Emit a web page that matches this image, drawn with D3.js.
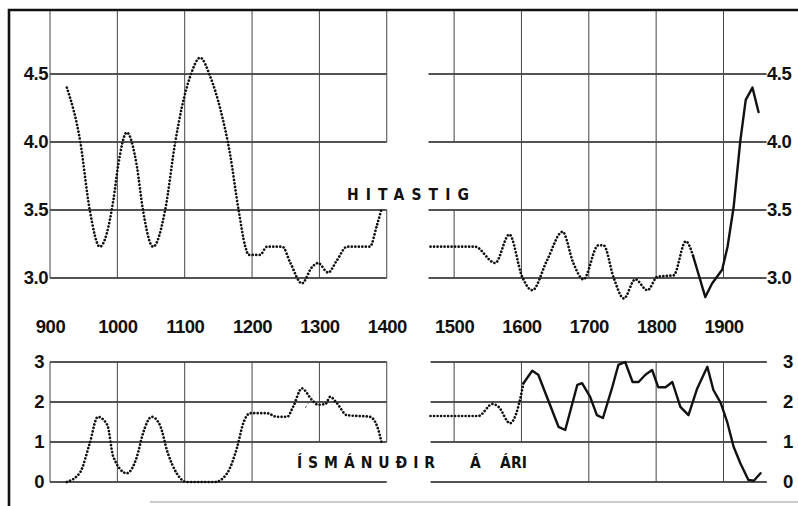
<!DOCTYPE html>
<html>
<head>
<meta charset="utf-8">
<script src="https://cdn.jsdelivr.net/npm/d3@7"></script>
<style>
  html, body { margin: 0; padding: 0; background: #fff; }
  svg { display: block; }
  .tick text { font-family: "Liberation Sans", Arial, sans-serif; font-weight: bold; font-size: 18.5px; fill: #111; letter-spacing: -0.5px; }
  .ttl { font-family: "DejaVu Sans Condensed", "Liberation Sans Narrow", "Liberation Sans", sans-serif; font-weight: bold; font-size: 15.5px; fill: #111; }
</style>
</head>
<body>
<svg id="chart" width="798" height="506"></svg>
<script>
// ---------------- DATA ----------------
const xTicks = [900, 1000, 1100, 1200, 1300, 1400, 1500, 1600, 1700, 1800, 1900];
const tempTicks = [3.0, 3.5, 4.0, 4.5];
const iceTicks = [0, 1, 2, 3];

// Hitastig (temperature), dotted, 900-1400
const tempLeftYears  = [925, 945, 959, 974, 994, 1001, 1014, 1029, 1038, 1053, 1071, 1086, 1096, 1108, 1123, 1138, 1153, 1167, 1180, 1190, 1195, 1212, 1222, 1245, 1257, 1274, 1289, 1298, 1313, 1326, 1341, 1375, 1385, 1393];
const tempLeftValues = [4.40, 4.00, 3.50, 3.23, 3.57, 3.82, 4.07, 3.82, 3.50, 3.23, 3.50, 4.00, 4.26, 4.48, 4.62, 4.48, 4.24, 3.92, 3.50, 3.23, 3.17, 3.17, 3.23, 3.23, 3.11, 2.96, 3.08, 3.11, 3.04, 3.13, 3.23, 3.23, 3.38, 3.52];

// Hitastig, dotted, 1465-1855
const tempRightDotYears  = [1465, 1531, 1561, 1582, 1601, 1616, 1638, 1661, 1677, 1692, 1714, 1722, 1737, 1752, 1769, 1787, 1802, 1826, 1844, 1855];
const tempRightDotValues = [3.23, 3.23, 3.11, 3.32, 3.01, 2.91, 3.13, 3.34, 3.11, 2.99, 3.24, 3.24, 3.00, 2.85, 2.99, 2.91, 3.01, 3.02, 3.27, 3.16];

// Hitastig, solid (measured), 1855-1952
const tempSolidYears  = [1855, 1873, 1883, 1898, 1906, 1915, 1925, 1933, 1943, 1952];
const tempSolidValues = [3.16, 2.86, 2.96, 3.06, 3.23, 3.52, 4.01, 4.31, 4.40, 4.22];

// Ísmánuðir á ári (sea-ice months per year), dotted, 900-1400
const iceLeftYears  = [925, 945, 959, 971, 985, 994, 1014, 1029, 1038, 1051, 1063, 1075, 1088, 1103, 1145, 1163, 1178, 1187, 1197, 1222, 1237, 1252, 1261, 1274, 1289, 1298, 1309, 1316, 1326, 1341, 1375, 1386, 1393];
const iceLeftValues = [0.00, 0.25, 0.97, 1.63, 1.43, 0.63, 0.22, 0.63, 1.21, 1.63, 1.43, 0.72, 0.22, 0.00, 0.00, 0.22, 0.88, 1.47, 1.72, 1.72, 1.63, 1.63, 1.88, 2.34, 2.05, 1.93, 1.95, 2.13, 1.97, 1.67, 1.63, 1.38, 0.93];

// small dashed alternative stroke near 1280-1290
const iceAltYears  = [1279, 1291];
const iceAltValues = [1.85, 2.18];

// Ísmánuðir, dotted, 1465-1603
const iceRightDotYears  = [1465, 1536, 1557, 1566, 1583, 1601, 1603];
const iceRightDotValues = [1.65, 1.65, 1.95, 1.88, 1.47, 2.30, 2.47];

// Ísmánuðir, solid, 1603-1955
const iceSolidYears  = [1603, 1616, 1625, 1655, 1665, 1683, 1690, 1702, 1712, 1721, 1735, 1744, 1754, 1765, 1774, 1784, 1794, 1803, 1814, 1824, 1836, 1848, 1861, 1876, 1885, 1896, 1906, 1915, 1925, 1937, 1945, 1955];
const iceSolidValues = [2.47, 2.78, 2.68, 1.38, 1.30, 2.43, 2.47, 2.13, 1.67, 1.60, 2.38, 2.93, 3.00, 2.50, 2.50, 2.68, 2.80, 2.37, 2.37, 2.50, 1.88, 1.67, 2.34, 2.88, 2.30, 1.97, 1.47, 0.88, 0.47, 0.05, 0.03, 0.22];

const titleTemp = "HITASTIG";
const titleIce1 = "ÍSMÁNUÐIR";
const titleIce2 = "Á";
const titleIce3 = "ÁRI";

// ---------------- LAYOUT ----------------
const svg = d3.select("#chart");
const x = d3.scaleLinear().domain([900, 1900]).range([50, 723.5]);
const yT = d3.scaleLinear().domain([3, 4.5]).range([278, 74]);
const yI = d3.scaleLinear().domain([0, 3]).range([482, 362]);

const leftSpan = [900, 1400];
const rightSpan = [1462, 1958];
const topEdge = yT.invert(11);

// frame
svg.append("line").attr("x1", 8).attr("x2", 798).attr("y1", 10).attr("y2", 10)
  .attr("stroke", "#111").attr("stroke-width", 2.6);
svg.append("line").attr("x1", 9).attr("x2", 9).attr("y1", 9).attr("y2", 506)
  .attr("stroke", "#111").attr("stroke-width", 2.6);
svg.append("line").attr("x1", 150).attr("x2", 798).attr("y1", 502).attr("y2", 502)
  .attr("stroke", "#bbb").attr("stroke-width", 1.5);

const grid = svg.append("g");
function hline(y, x1, x2) {
  grid.append("line").attr("x1", x1).attr("x2", x2).attr("y1", y).attr("y2", y)
    .attr("stroke", "#1a1a1a").attr("stroke-width", 1.4);
}
function vline(xp, y1, y2) {
  grid.append("line").attr("x1", xp).attr("x2", xp).attr("y1", y1).attr("y2", y2)
    .attr("stroke", "#444").attr("stroke-width", 1);
}

// top panel horizontal grid
tempTicks.forEach(t => {
  hline(yT(t), x(leftSpan[0]), x(leftSpan[1]));
  hline(yT(t), x(rightSpan[0]), x(rightSpan[1]) + 4);
});
// top panel vertical grid
[900, 1000, 1100, 1200, 1300].forEach(yr => vline(x(yr), yT(topEdge), yT(3)));
vline(x(1400), yT(topEdge), yT(4.0));
vline(x(1400), yT(3.5), yT(3));
vline(x(1500), yT(topEdge), yT(4.0));
vline(x(1500), yT(3.5), yT(3));
[1600, 1700, 1800, 1900].forEach(yr => vline(x(yr), yT(topEdge), yT(3)));

// bottom panel horizontal grid
iceTicks.forEach(t => {
  hline(yI(t), x(leftSpan[0]), x(leftSpan[1]));
  hline(yI(t), x(1465), x(1960) + 3);
});
// bottom panel vertical grid
[900, 1000, 1100, 1200].forEach(yr => vline(x(yr), yI(3), yI(0)));
[1300, 1400, 1500, 1600].forEach(yr => vline(x(yr), yI(3), yI(1)));
[1700, 1800, 1900].forEach(yr => vline(x(yr), yI(3), yI(0)));

// axes (labels only)
function styleAxis(g) { g.select(".domain").remove(); }
svg.append("g").attr("transform", "translate(0,320)")
  .call(d3.axisBottom(x).tickValues(xTicks).tickSize(0).tickPadding(0).tickFormat(d3.format("d")))
  .call(styleAxis);
svg.append("g").attr("transform", "translate(50,0)")
  .call(d3.axisLeft(yT).tickValues(tempTicks).tickSize(0).tickPadding(2).tickFormat(d3.format(".1f")))
  .call(styleAxis);
svg.append("g").attr("transform", "translate(764,0)")
  .call(d3.axisRight(yT).tickValues(tempTicks).tickSize(0).tickPadding(3).tickFormat(d3.format(".1f")))
  .call(styleAxis);
svg.append("g").attr("transform", "translate(46,0)")
  .call(d3.axisLeft(yI).tickValues(iceTicks).tickSize(0).tickPadding(2).tickFormat(d3.format("d")))
  .call(styleAxis);
svg.append("g").attr("transform", "translate(780,0)")
  .call(d3.axisRight(yI).tickValues(iceTicks).tickSize(0).tickPadding(3).tickFormat(d3.format("d")))
  .call(styleAxis);

// titles
svg.append("text").attr("class", "ttl").attr("x", 347).attr("y", 200)
  .attr("textLength", 122).attr("lengthAdjust", "spacing").text(titleTemp);
svg.append("text").attr("class", "ttl").attr("x", 297).attr("y", 468)
  .attr("textLength", 138).attr("lengthAdjust", "spacing").text(titleIce1);
svg.append("text").attr("class", "ttl").attr("x", 470).attr("y", 468).text(titleIce2);
svg.append("text").attr("class", "ttl").attr("x", 500).attr("y", 468)
  .attr("textLength", 27).attr("lengthAdjust", "spacing").text(titleIce3);

// series
function series(years, values, yScale, style, curve) {
  const pts = years.map((yr, i) => [yr, values[i]]);
  const line = d3.line().x(d => x(d[0])).y(d => yScale(d[1])).curve(curve);
  const p = svg.append("path").attr("d", line(pts)).attr("fill", "none").attr("stroke", "#111");
  if (style === "dot") {
    p.attr("stroke-width", 2.7).attr("stroke-dasharray", "0.01 3.5").attr("stroke-linecap", "round");
  } else if (style === "dash") {
    p.attr("stroke-width", 1).attr("stroke-dasharray", "2.5 2.5").attr("stroke", "#555");
  } else {
    p.attr("stroke-width", 2.4).attr("stroke-linejoin", "round").attr("stroke-linecap", "round");
  }
}
series(tempLeftYears, tempLeftValues, yT, "dot", d3.curveMonotoneX);
series(tempRightDotYears, tempRightDotValues, yT, "dot", d3.curveMonotoneX);
series(tempSolidYears, tempSolidValues, yT, "solid", d3.curveLinear);
series(iceLeftYears, iceLeftValues, yI, "dot", d3.curveMonotoneX);
series(iceAltYears, iceAltValues, yI, "dash", d3.curveLinear);
series(iceRightDotYears, iceRightDotValues, yI, "dot", d3.curveMonotoneX);
series(iceSolidYears, iceSolidValues, yI, "solid", d3.curveLinear);
</script>
</body>
</html>
